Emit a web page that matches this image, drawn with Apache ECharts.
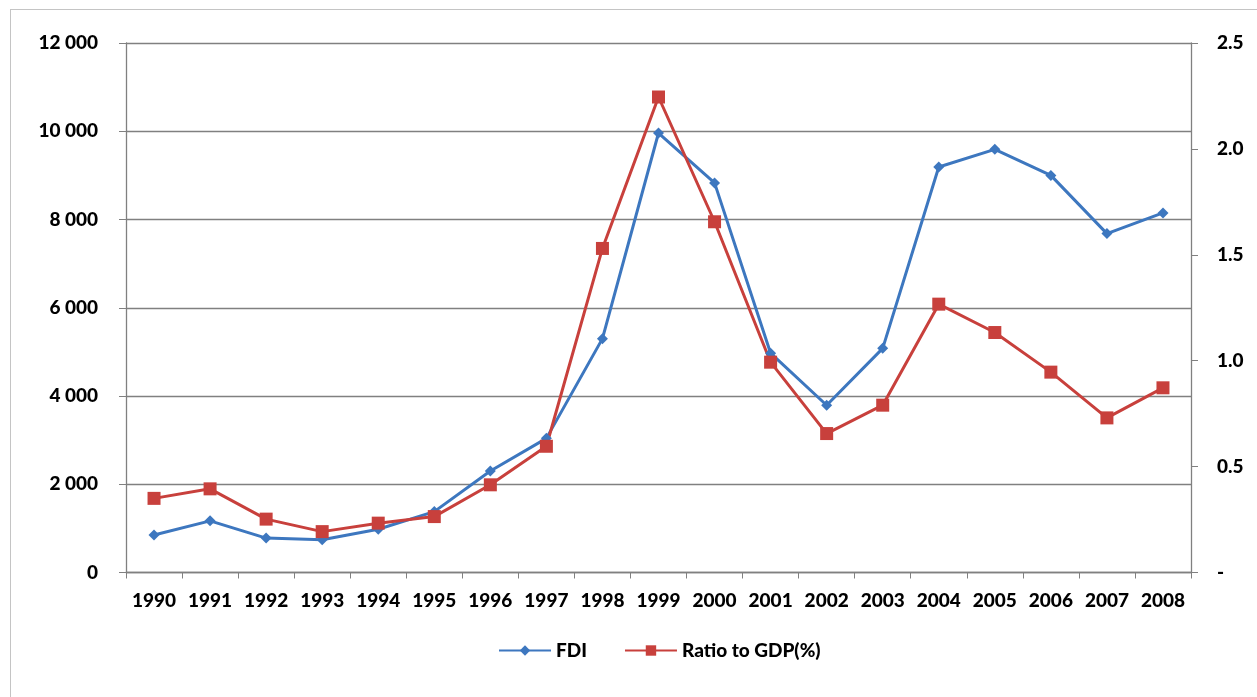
<!DOCTYPE html>
<html>
<head>
<meta charset="utf-8">
<script src="https://cdn.jsdelivr.net/npm/echarts@6/dist/echarts.min.js"></script>
<style>
    html, body { margin: 0; padding: 0; background: #fff; }
    #frame { position: absolute; left: 10px; top: 9px; width: 1400px; height: 900px; border: 1px solid #c4c4c4; }
    #chart { position: absolute; left: 0; top: 0; width: 1257px; height: 697px; }
</style>
</head>
<body>
<div id="frame"></div>
<div id="chart"></div>
<script>
// years on the x axis
var years = ['1990','1991','1992','1993','1994','1995','1996','1997','1998','1999',
             '2000','2001','2002','2003','2004','2005','2006','2007','2008'];
// FDI (left axis)
var fdi = [850, 1170, 780, 740, 980, 1380, 2300, 3040, 5300, 9960,
           8830, 4970, 3790, 5080, 9190, 9590, 9000, 7680, 8150];
// ratio to GDP in % (right axis)
var ratio = [0.35, 0.395, 0.252, 0.193, 0.233, 0.264, 0.414, 0.596, 1.53, 2.245,
             1.656, 0.993, 0.656, 0.79, 1.267, 1.133, 0.946, 0.73, 0.872];

var axisGrey = '#808080';
var font = 'Lato, "Open Sans", sans-serif';
var labelStyle = { color: '#000', fontWeight: 900, fontSize: 19, fontFamily: font };

var chart = echarts.init(document.getElementById('chart'));
chart.setOption({
    animation: false,
    textStyle: { fontFamily: font },
    grid: { left: 126, right: 66, top: 43, bottom: 124.5, containLabel: false },
    legend: {
        left: 493,
        top: 636,
        itemWidth: 52,
        itemHeight: 13,
        itemGap: 37,
        textStyle: { fontFamily: font, fontWeight: 900, fontSize: 19, color: '#000' },
        data: ['FDI', 'Ratio to GDP(%)']
    },
    xAxis: {
        type: 'category',
        data: years,
        boundaryGap: true,
        axisLine: { lineStyle: { color: axisGrey, width: 1.3 } },
        axisTick: { show: true, length: 6, lineStyle: { color: axisGrey } },
        axisLabel: Object.assign({ margin: 19, interval: 0 }, labelStyle)
    },
    yAxis: [
        {
            type: 'value',
            min: 0, max: 12000, interval: 2000,
            axisLine: { show: true, lineStyle: { color: axisGrey, width: 1.3 } },
            axisTick: { show: true, length: 7, lineStyle: { color: axisGrey } },
            splitLine: { show: true, lineStyle: { color: axisGrey, width: 1.3 } },
            axisLabel: Object.assign({
                margin: 28,
                formatter: function (v) {
                    return v >= 1000 ? Math.floor(v / 1000) + ' 000' : String(v);
                }
            }, labelStyle)
        },
        {
            type: 'value',
            min: 0, max: 2.5, interval: 0.5,
            position: 'right',
            axisLine: { show: true, lineStyle: { color: axisGrey, width: 1.3 } },
            axisTick: { show: true, length: 7, lineStyle: { color: axisGrey } },
            splitLine: { show: false },
            axisLabel: Object.assign({
                margin: 26,
                formatter: function (v) { return v === 0 ? '-' : v.toFixed(1); }
            }, labelStyle)
        }
    ],
    series: [
        {
            name: 'FDI',
            type: 'line',
            yAxisIndex: 0,
            data: fdi,
            symbol: 'diamond',
            symbolSize: 11,
            color: '#3d77bf',
            lineStyle: { width: 3, color: '#3d77bf' },
            itemStyle: { color: '#3d77bf' }
        },
        {
            name: 'Ratio to GDP(%)',
            type: 'line',
            yAxisIndex: 1,
            data: ratio,
            symbol: 'rect',
            symbolSize: 13,
            color: '#c8403c',
            lineStyle: { width: 3, color: '#c8403c' },
            itemStyle: { color: '#c8403c' }
        }
    ]
});
</script>
</body>
</html>
